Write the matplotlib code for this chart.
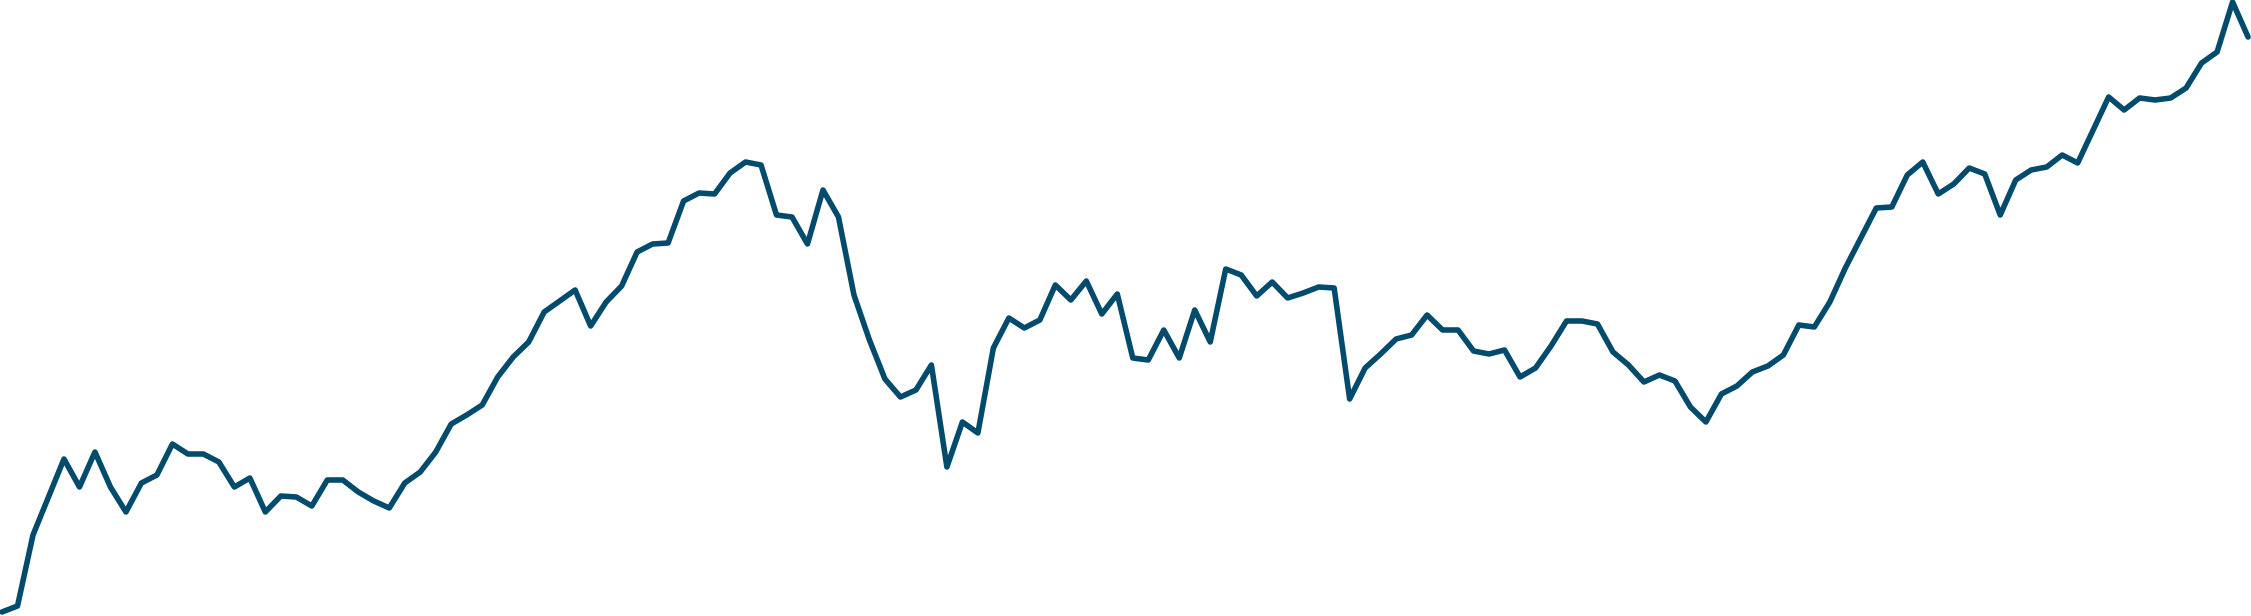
import matplotlib
matplotlib.use("Agg")
import matplotlib.pyplot as plt

# series values (arbitrary units), one per period
values = [
    0.4, 1.0, 8.1, 11.9, 15.7, 12.9, 16.4, 12.9, 10.4, 13.3,
    14.1, 17.2, 16.2, 16.2, 15.4, 12.9, 13.8, 10.4, 12.0, 11.9,
    11.0, 13.6, 13.6, 12.4, 11.5, 10.8, 13.3, 14.4, 16.4, 19.2,
    20.1, 21.1, 23.9, 25.9, 27.4, 30.4, 31.5, 32.6, 29.0, 31.4,
    33.0, 36.4, 37.2, 37.3, 41.5, 42.3, 42.2, 44.3, 45.4, 45.1,
    40.1, 39.9, 37.2, 42.6, 39.9, 32.1, 27.6, 23.7, 21.9, 22.6,
    25.1, 14.9, 19.4, 18.3, 26.8, 29.8, 28.8, 29.6, 33.1, 31.6,
    33.5, 30.2, 32.2, 25.8, 25.6, 28.6, 25.8, 30.6, 27.4, 34.7,
    34.1, 32.0, 33.4, 31.8, 32.3, 32.9, 32.8, 21.7, 24.8, 26.2,
    27.7, 28.1, 30.1, 28.6, 28.6, 26.5, 26.2, 26.6, 23.9, 24.8,
    27.0, 29.5, 29.5, 29.2, 26.4, 25.1, 23.4, 24.1, 23.5, 20.9,
    19.4, 22.2, 23.0, 24.4, 25.0, 26.1, 29.1, 28.9, 31.4, 34.8,
    37.8, 40.8, 40.9, 44.1, 45.4, 42.2, 43.2, 44.8, 44.2, 40.1,
    43.6, 44.6, 44.9, 46.1, 45.3, 48.6, 51.9, 50.6, 51.8, 51.6,
    51.8, 52.8, 55.3, 56.4, 61.4, 57.9,
]
periods = list(range(len(values)))

fig = plt.figure(figsize=(22.51, 6.16), dpi=100)
ax = fig.add_axes([0, 0, 1, 1])
ax.plot(periods, values, color="#024b6c", linewidth=4,
        solid_joinstyle="round", solid_capstyle="round")

ax.set_xlim(-0.13, len(values) - 1 + 0.19)
ax.set_ylim(0, 61.6)
ax.axis("off")

fig.savefig("out.png", dpi=100, facecolor="white")
plt.close(fig)
